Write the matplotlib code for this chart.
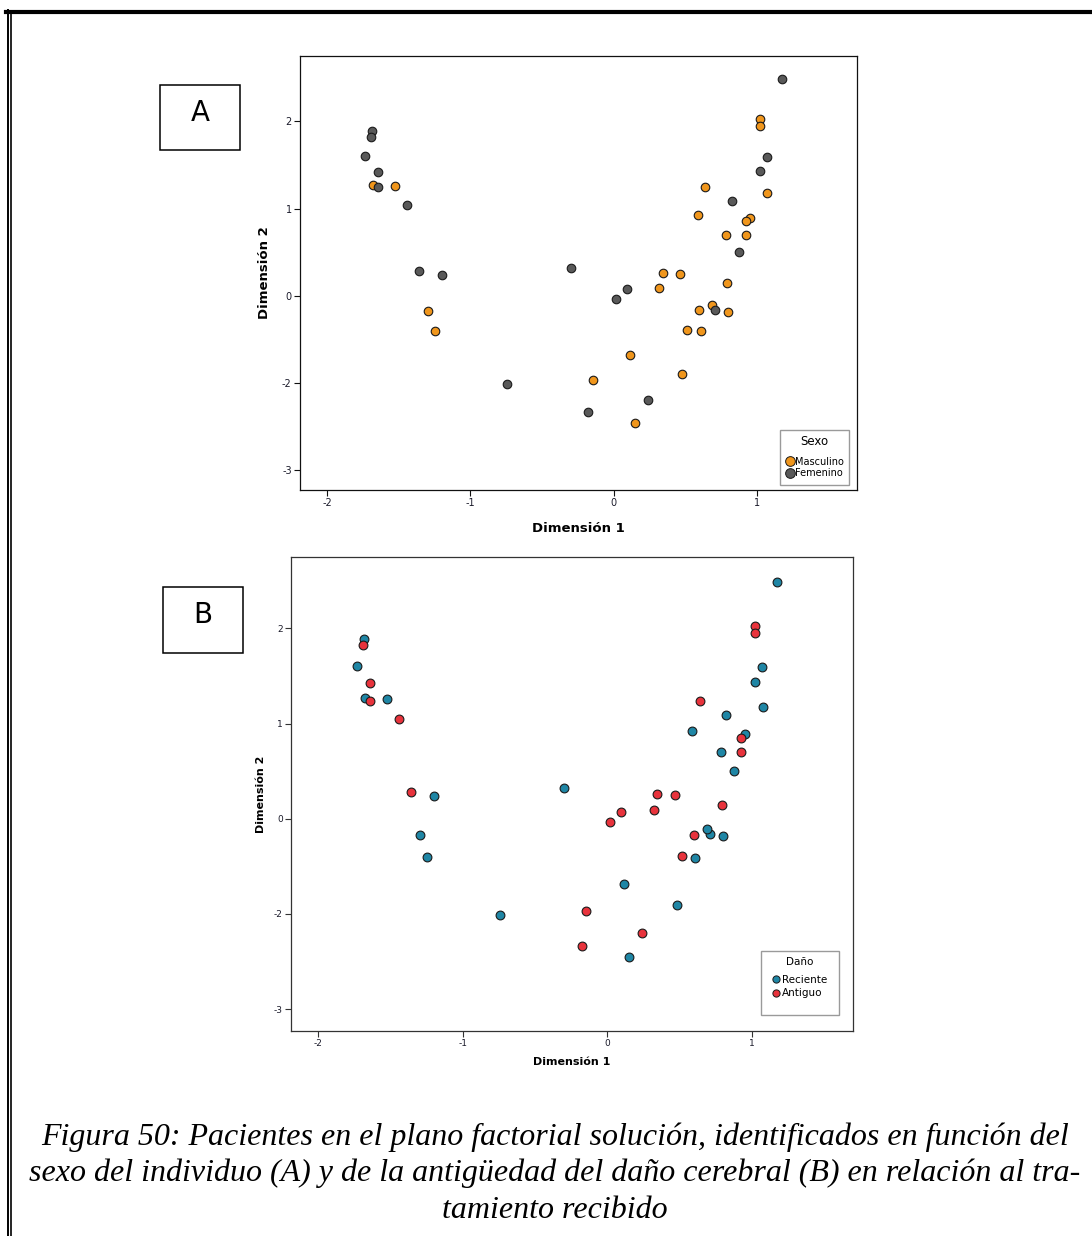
import matplotlib
matplotlib.use("Agg")
import matplotlib.pyplot as plt
from matplotlib.lines import Line2D
from matplotlib.patches import Rectangle

# Patient coordinates on the factorial plane (Dimension 1, Dimension 2)
dim1 = [1.175, -1.686, -1.691, -1.733, -1.645, -1.642, -1.443, 1.072, 1.022, 0.824,
        0.875, -1.356, -1.201, -0.300, 0.096, 0.018, 0.710, -0.744, 0.240, -0.178,
        1.022, 1.022, -1.678, -1.526, 0.640, 1.074, 0.589, 0.953, 0.922, 0.785,
        0.922, 0.343, 0.465, 0.320, 0.793, -1.294, -1.250, 0.689, 0.596, 0.798,
        0.514, 0.609, 0.116, -0.145, 0.480, 0.152]
dim2 = [2.490, 1.890, 1.826, 1.602, 1.424, 1.242, 1.045, 1.591, 1.436, 1.087,
        0.500, 0.284, 0.239, 0.322, 0.074, -0.035, -0.161, -1.010, -1.197, -1.338,
        2.027, 1.951, 1.269, 1.254, 1.242, 1.178, 0.920, 0.894, 0.852, 0.701,
        0.701, 0.261, 0.250, 0.091, 0.148, -0.176, -0.402, -0.103, -0.168, -0.184,
        -0.390, -0.409, -0.681, -0.967, -0.902, -1.457]
sexo = ["Femenino"] * 20 + ["Masculino"] * 26
dano = ["Reciente", "Reciente", "Antiguo", "Reciente", "Antiguo", "Antiguo", "Antiguo",
        "Reciente", "Reciente", "Reciente", "Reciente", "Antiguo", "Reciente", "Reciente",
        "Antiguo", "Antiguo", "Reciente", "Reciente", "Antiguo", "Antiguo",
        "Antiguo", "Antiguo", "Reciente", "Reciente", "Antiguo", "Reciente", "Reciente",
        "Reciente", "Antiguo", "Reciente", "Antiguo", "Antiguo", "Antiguo", "Antiguo",
        "Antiguo", "Reciente", "Reciente", "Reciente", "Antiguo", "Reciente", "Antiguo",
        "Reciente", "Reciente", "Antiguo", "Reciente", "Reciente"]

sexo_levels = ["Masculino", "Femenino"]
dano_levels = ["Reciente", "Antiguo"]
sexo_colors = {"Masculino": "#f0961c", "Femenino": "#595959"}
dano_colors = {"Reciente": "#1f86a5", "Antiguo": "#e8333c"}

x_ticks = [-2, -1, 0, 1]
x_tick_labels = ["-2", "-1", "0", "1"]
y_ticks = [2, 1, 0, -1, -2]
y_tick_labels = ["2", "1", "0", "-2", "-3"]

caption_lines = [
    "Figura 50: Pacientes en el plano factorial solución, identificados en función del",
    "sexo del individuo (A) y de la antigüedad del daño cerebral (B) en relación al tra-",
    "tamiento recibido",
]

W, H = 1092, 1236
fig = plt.figure(figsize=(W / 100, H / 100), dpi=100)


def fx(px):
    return px / W


def fy(py):
    return 1 - py / H


# Page frame: thick top rule and double rule on the left
fig.add_artist(Line2D([fx(6), fx(1092)], [fy(12), fy(12)], color="black", lw=3.0))
fig.add_artist(Line2D([fx(7.5), fx(7.5)], [fy(10), fy(1236)], color="black", lw=1.4))
fig.add_artist(Line2D([fx(11), fx(11)], [fy(13), fy(1236)], color="black", lw=1.2))


def panel(rect_px, groups, levels, colors, spine_col, tick_fs, label_fs,
          xpad, ypad, marker_s, legend_title, legend_anchor, legend_box,
          leg_fs, leg_title_fs, leg_marker, leg_sep, leg_spacing):
    l, t, r, b = rect_px
    ax = fig.add_axes([fx(l), fy(b), fx(r - l), (b - t) / H])
    for lev in levels:
        xs = [x for x, g in zip(dim1, groups) if g == lev]
        ys = [y for y, g in zip(dim2, groups) if g == lev]
        ax.scatter(xs, ys, s=marker_s, c=colors[lev], edgecolors="#1a1a1a",
                   linewidths=0.8, zorder=3)
    ax.set_xlim(-2.19, 1.70)
    ax.set_ylim(-2.23, 2.75)
    ax.set_xticks(x_ticks)
    ax.set_xticklabels(x_tick_labels)
    ax.set_yticks(y_ticks)
    ax.set_yticklabels(y_tick_labels)
    ax.tick_params(axis="both", direction="out", length=4.5, width=0.8,
                   colors=spine_col, labelsize=tick_fs, pad=1.5,
                   labelcolor="#1a1a2a")
    for sp in ax.spines.values():
        sp.set_color(spine_col)
        sp.set_linewidth(0.9)
    ax.set_xlabel("Dimensión 1", fontsize=label_fs, fontweight="bold",
                  labelpad=xpad)
    ax.set_ylabel("Dimensión 2", fontsize=label_fs, fontweight="bold",
                  labelpad=ypad)
    handles = [Line2D([], [], marker="o", ls="none", markersize=leg_marker,
                      markerfacecolor=colors[lev], markeredgecolor="#1a1a1a",
                      markeredgewidth=0.7, label=lev) for lev in levels]
    # white legend panel with a grey outline, drawn beneath the legend entries
    lb = legend_box
    ax.add_patch(Rectangle((fx(lb[0]), fy(lb[3])), fx(lb[2] - lb[0]),
                           (lb[3] - lb[1]) / H, transform=fig.transFigure,
                           facecolor="white", edgecolor="#9a9a9a", lw=1.0,
                           zorder=4, clip_on=False))
    leg = ax.legend(handles=handles, title=legend_title, loc="upper left",
                    bbox_to_anchor=(fx(legend_anchor[0]), fy(legend_anchor[1])),
                    bbox_transform=fig.transFigure, fontsize=leg_fs,
                    title_fontsize=leg_title_fs, frameon=False,
                    handletextpad=0.1, handlelength=0.9,
                    borderpad=0.55, labelspacing=leg_spacing,
                    borderaxespad=0)
    leg._legend_box.sep = leg_sep
    leg.set_zorder(6)
    return ax


panel((300, 56, 857, 490), sexo, sexo_levels, sexo_colors, "#111111",
      7, 9.5, 10, 8, 38, "Sexo", (780, 430), (780, 430, 849, 485),
      7, 8.5, 7.0, 6, 0.15)
panel((291, 557, 853, 1031), dano, dano_levels, dano_colors, "#333333",
      6.5, 8, 6.5, 5.5, 40, "Daño", (766, 951), (761, 951, 839, 1015),
      7.5, 7.5, 5.2, 6, 0.3)


def letter_box(l, t, r, b, letter, ty):
    fig.add_artist(Rectangle((fx(l), fy(b)), fx(r - l), (b - t) / H,
                             fill=False, edgecolor="black", lw=1.1))
    fig.text(fx((l + r) / 2), fy(ty), letter, ha="center",
             va="center", fontsize=20)


letter_box(160, 85, 240, 150, "A", 113)
letter_box(163, 587, 243, 653, "B", 615)

for i, line in enumerate(caption_lines):
    fig.text(fx(555), fy(1137 + i * 36.7), line, ha="center", va="center",
             fontsize=23, fontstyle="italic", family="Liberation Serif")

fig.savefig("out.png", dpi=100)
